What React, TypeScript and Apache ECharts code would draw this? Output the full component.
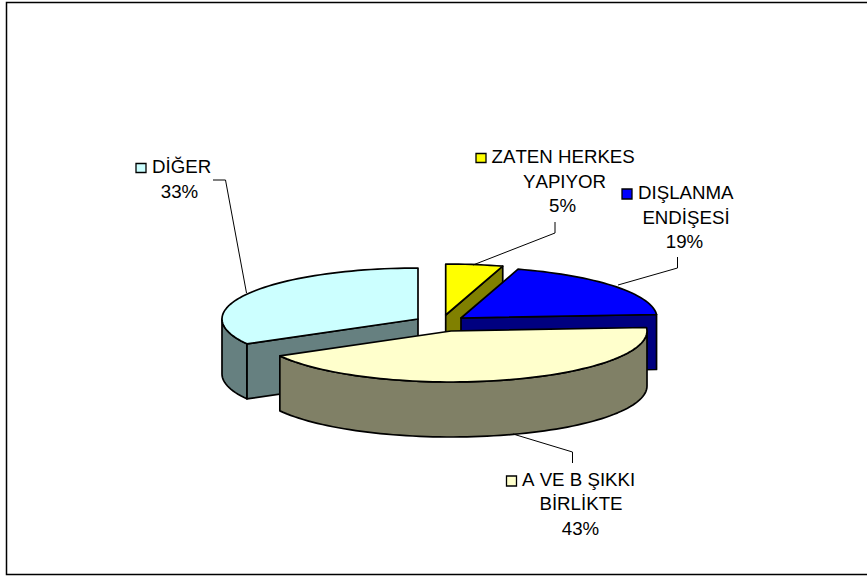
import React, { useEffect, useRef } from "react";
import * as echarts from "echarts";

const categories = ["ZATEN HERKES YAPIYOR", "DIŞLANMA ENDİŞESİ", "A VE B ŞIKKI BİRLİKTE", "DİĞER"];
const values = [4.7, 19.2, 43, 33.1];
const percentLabels = ["5%", "19%", "43%", "33%"];
const topColors = ["#FFFF00", "#0000FF", "#FFFFCC", "#CCFFFF"];
const sideColors = ["#808000", "#000080", "#808066", "#668080"];
const paintOrder = [0, 1, 3, 2];

const WIDTH = 867;
const HEIGHT = 578;
const RX = 196;
const RY = 51;
const DEPTH = 55;
const FONT = '"Liberation Sans", Arial, sans-serif';
const FONT_SIZE = 18.7;
const apexes = [
  [445.7, 315],
  [461, 318],
  [451, 331],
  [418, 319],
];

type Line = { text: string; x: number; y: number; align: "left" | "center" };
const labelLines: Line[][] = [
  [
    { text: "ZATEN HERKES", x: 491.5, y: 156, align: "left" },
    { text: "YAPIYOR", x: 564.5, y: 181, align: "center" },
    { text: percentLabels[0], x: 562.5, y: 205.5, align: "center" },
  ],
  [
    { text: "DIŞLANMA", x: 638, y: 192, align: "left" },
    { text: "ENDİŞESİ", x: 686, y: 217, align: "center" },
    { text: percentLabels[1], x: 684.5, y: 241.5, align: "center" },
  ],
  [
    { text: "A VE B ŞIKKI", x: 522, y: 479, align: "left" },
    { text: "BİRLİKTE", x: 581, y: 503.5, align: "center" },
    { text: percentLabels[2], x: 580.5, y: 528, align: "center" },
  ],
  [
    { text: "DİĞER", x: 152, y: 166, align: "left" },
    { text: percentLabels[3], x: 179.5, y: 191.5, align: "center" },
  ],
];
const legendKeys = [
  [476, 153.5, 10, 9],
  [622, 189, 10, 10],
  [506.5, 476, 10, 10],
  [136, 163.5, 10, 9],
];
const leaders = [
  [[555, 222], [555, 233], [473, 265]],
  [[677.5, 257], [677.5, 268], [618, 285]],
  [[572.5, 463], [572.5, 452], [513, 434]],
  [[213, 180], [225.5, 180], [246.5, 293]],
];

const total = values.reduce((a, b) => a + b, 0);
const DEG = Math.PI / 180;

function renderSlice(params: any) {
  const idx = paintOrder[params.dataIndex];
  const before = values.slice(0, idx).reduce((a, b) => a + b, 0);
  const a0 = (before / total) * 360;
  const a1 = ((before + values[idx]) / total) * 360;
  const [cx, cy] = apexes[idx];
  const pt = (deg: number) => [cx + RX * Math.sin(deg * DEG), cy - RY * Math.cos(deg * DEG)];
  const arc = (from: number, to: number) => {
    const pts: number[][] = [];
    const n = Math.max(2, Math.ceil((to - from) / 2));
    for (let i = 0; i <= n; i++) pts.push(pt(from + ((to - from) * i) / n));
    return pts;
  };
  const down = (p: number[]) => [p[0], p[1] + DEPTH];
  const border = { stroke: "#000", lineWidth: 1.7, lineJoin: "round" };
  const children: any[] = [];
  const side = (points: number[][]) =>
    children.push({ type: "polygon", shape: { points }, style: { fill: sideColors[idx], ...border } });

  if (Math.sin(a0 * DEG) < -1e-6) {
    const p = pt(a0);
    side([[cx, cy], p, down(p), [cx, cy + DEPTH]]);
  }
  if (Math.sin(a1 * DEG) > 1e-6) {
    const p = pt(a1);
    side([[cx, cy], p, down(p), [cx, cy + DEPTH]]);
  }
  const r0 = Math.max(a0, 90);
  const r1 = Math.min(a1, 270);
  if (r1 > r0) {
    const rim = arc(r0, r1);
    side([...rim, ...rim.slice().reverse().map(down)]);
  }
  children.push({
    type: "polygon",
    shape: { points: [[cx, cy], ...arc(a0, a1)] },
    style: { fill: topColors[idx], ...border },
  });
  return { type: "group", children };
}

export default function App() {
  const ref = useRef<HTMLDivElement>(null);
  useEffect(() => {
    const chart = echarts.init(ref.current!, undefined, { renderer: "svg" });
    const graphic: any[] = [
      {
        type: "rect",
        shape: { x: 6.5, y: 2.5, width: 880, height: 572 },
        style: { fill: "none", stroke: "#000", lineWidth: 1.5 },
      },
    ];
    leaders.forEach((pts) =>
      graphic.push({
        type: "polyline",
        shape: { points: pts },
        style: { fill: "none", stroke: "#000", lineWidth: 1 },
        z: 10,
      })
    );
    legendKeys.forEach((k, i) =>
      graphic.push({
        type: "rect",
        shape: { x: k[0], y: k[1], width: k[2], height: k[3] },
        style: { fill: topColors[i], stroke: "#000", lineWidth: 1.3 },
        z: 10,
      })
    );
    labelLines.forEach((lines) =>
      lines.forEach((l) =>
        graphic.push({
          type: "text",
          x: l.x,
          y: l.y,
          style: {
            text: l.text,
            font: `${FONT_SIZE}px ${FONT}`,
            fill: "#000",
            align: l.align,
            verticalAlign: "middle",
          },
          z: 10,
        })
      )
    );
    chart.setOption({
      animation: false,
      backgroundColor: "#fff",
      graphic,
      series: [
        {
          type: "custom",
          name: "Pie",
          coordinateSystem: "none",
          renderItem: renderSlice,
          data: paintOrder.map((i) => ({ name: categories[i], value: values[i] })),
          silent: true,
          clip: false,
        },
      ],
    });
    return () => chart.dispose();
  }, []);
  return (
    <>
      <style>{"text{font-kerning:none !important}"}</style>
      <div
        ref={ref}
        style={{ position: "fixed", left: 0, top: 0, width: WIDTH, height: HEIGHT }}
      />
    </>
  );
}
